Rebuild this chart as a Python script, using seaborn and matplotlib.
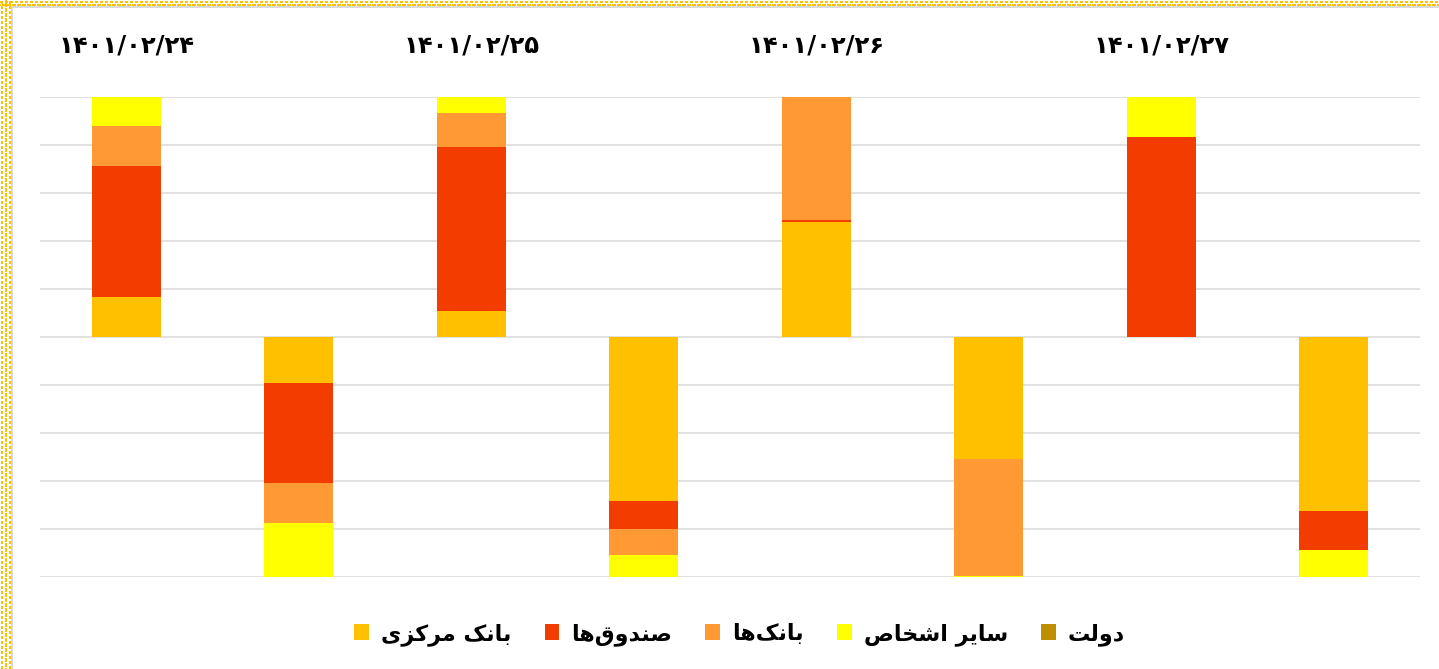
"""
plot.py
Stacked buy/sell shares by trader group for four trading days (100% bars).
"""

import matplotlib
matplotlib.use("Agg")
import matplotlib.pyplot as plt
from matplotlib.lines import Line2D
from matplotlib.patches import Patch
import seaborn as sns
import numpy as np
import pandas as pd

# ---- data -------------------------------------------------------------
bars = ["24_buy", "24_sell", "25_buy", "25_sell", "26_buy", "26_sell", "27_buy", "27_sell"]
dates = ["۱۴۰۱/۰۲/۲۴", "۱۴۰۱/۰۲/۲۵", "۱۴۰۱/۰۲/۲۶", "۱۴۰۱/۰۲/۲۷"]

series_names = ["بانک مرکزی", "صندوق‌ها", "بانک‌ها", "سایر اشخاص", "دولت"]
central_bank = [16.8, -19.0, 10.8, -68.3, 48.0, -50.8, 0.0, -72.4]
funds = [54.5, -41.7, 68.3, -11.7, 0.7, 0.0, 83.2, -16.5]
banks = [16.8, -16.7, 14.2, -10.8, 51.3, -48.6, 0.0, 0.0]
others = [11.9, -22.6, 6.7, -9.2, 0.0, -0.6, 16.8, -11.1]
government = [0.0, 0.0, 0.0, 0.0, 0.0, 0.0, 0.0, 0.0]

COLORS = ["#FFC000", "#F23C00", "#FF9933", "#FFFF00", "#BF8F00"]

# ---- minimal Persian shaping (matplotlib has no complex text layout) ---
FORMS = {  # isolated, final, initial, medial
    "ا": "\uFE8D\uFE8E",
    "د": "\uFEA9\uFEAA",
    "ر": "\uFEAD\uFEAE",
    "ز": "\uFEAF\uFEB0",
    "و": "\uFEED\uFEEE",
    "ب": "\uFE8F\uFE90\uFE91\uFE92",
    "ت": "\uFE95\uFE96\uFE97\uFE98",
    "خ": "\uFEA5\uFEA6\uFEA7\uFEA8",
    "س": "\uFEB1\uFEB2\uFEB3\uFEB4",
    "ش": "\uFEB5\uFEB6\uFEB7\uFEB8",
    "ص": "\uFEB9\uFEBA\uFEBB\uFEBC",
    "ق": "\uFED5\uFED6\uFED7\uFED8",
    "ل": "\uFEDD\uFEDE\uFEDF\uFEE0",
    "م": "\uFEE1\uFEE2\uFEE3\uFEE4",
    "ن": "\uFEE5\uFEE6\uFEE7\uFEE8",
    "ه": "\uFEE9\uFEEA\uFEEB\uFEEC",
    "ک": "\uFB8E\uFB8F\uFB90\uFB91",
    "ی": "\uFBFC\uFBFD\uFBFE\uFBFF",
}


def shape(text):
    out = []
    for i, ch in enumerate(text):
        forms = FORMS.get(ch)
        if forms is None:
            out.append(ch)
            continue
        prev = text[i - 1] if i > 0 else ""
        nxt = text[i + 1] if i + 1 < len(text) else ""
        join_prev = prev in FORMS and len(FORMS[prev]) == 4
        join_next = len(forms) == 4 and nxt in FORMS
        if join_prev and join_next:
            out.append(forms[3])
        elif join_prev:
            out.append(forms[1])
        elif join_next:
            out.append(forms[2])
        else:
            out.append(forms[0])
    return "".join(out).replace("\u200c", "")[::-1]


# ---- table: cumulative heights, drawn from the top series down --------
values = np.array([central_bank, funds, banks, others, government])
cum = np.cumsum(values, axis=0)
rows = []
for s, name in enumerate(series_names):
    for b, bar in enumerate(bars):
        rows.append({"bar": bar, "series": name, "value": values[s, b],
                     "cum": cum[s, b] if values[s, b] != 0 else np.nan})
df = pd.DataFrame(rows)

sns.set_style("white")
plt.rcParams["font.family"] = ["DejaVu Sans"]

W, H = 1439, 669
fig = plt.figure(figsize=(W / 100, H / 100), dpi=100)
ax = fig.add_axes([40 / W, 92 / H, 1380 / W, 480 / H])

for name, color in reversed(list(zip(series_names, COLORS))):
    sub = df[(df["series"] == name) & df["cum"].notna()]
    if sub.empty:
        continue
    sns.barplot(data=sub, x="bar", y="cum", order=bars, color=color,
                saturation=1, width=0.4, linewidth=0, errorbar=None, ax=ax)

ax.set_xlim(-0.5, len(bars) - 0.5)
ax.set_ylim(-100, 100)
ax.set_yticks(np.arange(-100, 101, 20))
ax.yaxis.grid(True, color="#D9D9D9", linewidth=1.1)
ax.set_axisbelow(True)
ax.tick_params(left=False, bottom=False, labelleft=False, labelbottom=False)
ax.set_xlabel("")
ax.set_ylabel("")
for sp in ax.spines.values():
    sp.set_visible(False)

# date titles above each buy bar
trans = matplotlib.transforms.blended_transform_factory(ax.transData, ax.transAxes)
for i, d in enumerate(dates):
    ax.text(2 * i, 1.108, d, transform=trans, ha="center", va="center",
            fontsize=17.5, fontweight="bold", color="black")

handles = [Patch(facecolor=c, edgecolor="none") for c in COLORS]
fig.legend(handles, [shape(n) for n in series_names], loc="center",
           bbox_to_anchor=(0.514, 0.052), ncol=5, frameon=False,
           prop={"size": 16, "weight": "bold"}, labelcolor="black",
           handlelength=0.65, handleheight=0.75, handletextpad=0.55,
           columnspacing=1.5)

# chart frame: light grey edge with a dotted yellow selection border outside
fig.add_artist(Line2D([12 / W, 12 / W], [0, 1 - 7 / H], color="#D9D9D9", lw=1.4))
fig.add_artist(Line2D([12 / W, 1], [1 - 7 / H, 1 - 7 / H], color="#D9D9D9", lw=1.4))
for k, y in enumerate([1.5, 4.5]):
    fig.add_artist(Line2D([0, 1], [1 - y / H] * 2, color="#FFC000", lw=1.6,
                          linestyle=(k, (1, 1)), antialiased=False))
for k, x in enumerate([1.5, 5.5, 9.5]):
    fig.add_artist(Line2D([x / W] * 2, [0, 1], color="#FFC000", lw=1.6,
                          linestyle=(k % 2, (1, 1)), antialiased=False))

plt.savefig("out.png", dpi=100)
plt.close()
